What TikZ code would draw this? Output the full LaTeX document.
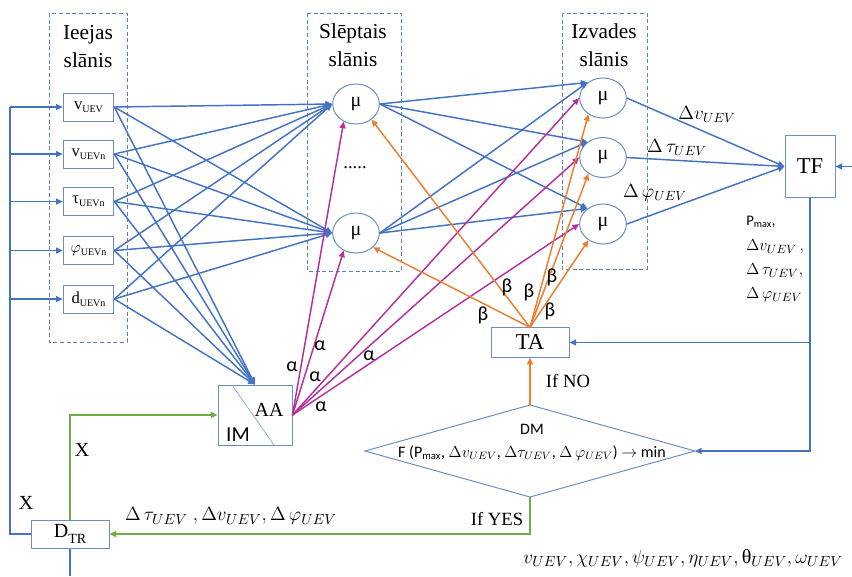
\documentclass[tikz,border=0pt]{standalone}
\usepackage[no-math]{fontspec}
\usepackage{amsmath}
\setmainfont{Liberation Serif}
\newfontfamily\calfont{Carlito}
\usetikzlibrary{arrows.meta,shapes.geometric}
\definecolor{cblue}{HTML}{4472C4}
\definecolor{cbox}{HTML}{6C8EBF}
\definecolor{cdiag}{HTML}{7FA6D8}
\definecolor{cmag}{HTML}{B5309E}
\definecolor{corg}{HTML}{ED7D31}
\definecolor{cgrn}{HTML}{70AD47}
\definecolor{cdash}{HTML}{5A84B4}
\newcommand\lowsub[1]{\raisebox{-2.5pt}{\fontsize{7.5}{8}\selectfont #1}}
\newcommand\lowsubb[1]{\raisebox{-4pt}{\fontsize{10.5}{11}\selectfont #1}}
\begin{document}
\begin{tikzpicture}[x=0.75pt,y=-0.75pt,
 tip/.style={-{Triangle[length=5pt,width=4.5pt]}},
 bl/.style={draw=cblue,line width=1.1pt,tip},
 mg/.style={draw=cmag,line width=1.1pt,tip},
 og/.style={draw=corg,line width=1.1pt,tip},
 gr/.style={draw=cgrn,line width=1.1pt,tip},
 box/.style={draw=cbox,line width=0.75pt,inner sep=0pt},
 inbox/.style={box,minimum width=38pt,minimum height=21pt,font=\fontsize{12.5}{14}\selectfont},
 neuron/.style={draw=cbox,line width=0.75pt,ellipse,minimum width=35pt,minimum height=30pt,inner sep=0pt,font=\fontsize{15}{17}\selectfont},
 layer/.style={draw=cdash,line width=0.6pt,dash pattern=on 3pt off 2pt},
 ttl/.style={align=center,font=\fontsize{16}{21}\selectfont},
 ab/.style={font=\calfont\fontsize{15}{17}\selectfont,inner sep=0pt},
 mlbl/.style={font=\fontsize{14.5}{16}\selectfont,inner sep=0pt},
 serif/.style={font=\fontsize{15}{18}\selectfont,inner sep=0pt},
]
\useasboundingbox (0,0) rectangle (852,576);

% layer frames
\draw[layer] (49,13) rectangle (127,342);
\draw[layer] (307,13) rectangle (401,271);
\draw[layer] (562,13) rectangle (647,269);
\node[ttl] (t1) at (88,47) {Ieejas\\slānis};
\node[ttl] (t2) at (353,45) {Slēptais\\slānis};
\node[ttl] (t3) at (604,45) {Izvades\\slānis};

% input nodes
\node[inbox] (i1) at (88.5,107) {v\lowsub{UEV}};
\node[inbox] (i2) at (88.5,154) {v\lowsub{UEVn}};
\node[inbox] (i3) at (88.5,201.5) {τ\lowsub{UEVn}};
\node[inbox] (i4) at (88.5,250.5) {$\varphi$\lowsub{UEVn}};
\node[inbox] (i5) at (88.5,299) {d\lowsub{UEVn}};

% hidden
\node[neuron] (h1) at (356,104) {μ};
\node[neuron] (h2) at (356,233) {μ};
\node[font=\fontsize{14}{16}\selectfont] (dots) at (355,168) {.....};

% outputs
\node[neuron] (o1) at (603,98) {μ};
\node[neuron] (o2) at (603,157.5) {μ};
\node[neuron] (o3) at (603,224) {μ};

% TF, TA, AA, DTR
\node[box,minimum width=37.5pt,minimum height=47pt,font=\fontsize{17}{20}\selectfont] (tf) at (810,166.5) {TF};
\node[box,minimum width=58.5pt,minimum height=22pt,font=\fontsize{17}{20}\selectfont] (ta) at (530,342.5) {TA};
\node[box,minimum width=55.5pt,minimum height=45pt] (aa) at (255,415) {};
\coordinate (dg1) at (232,385);
\coordinate (dg2) at (274,445);
\draw[draw=cdiag,line width=0.5pt] (dg1) -- (dg2);
\node[serif] (aat) at (269,410) {AA};
\node[font=\calfont\fontsize{16}{18}\selectfont,inner sep=0pt] (imt) at (238,435) {IM};
\node[box,minimum width=58.5pt,minimum height=21pt,font=\fontsize{15}{18}\selectfont] (dtr) at (70,534) {D\lowsubb{TR}};

% DM diamond
\coordinate (dmT) at (530,405);
\coordinate (dmR) at (695,451);
\coordinate (dmB) at (530,497);
\coordinate (dmL) at (365,451);
\draw[draw=cbox,line width=0.75pt] (dmT) -- (dmR) -- (dmB) -- (dmL) -- cycle;
\node[font=\calfont\fontsize{12}{14}\selectfont,inner sep=0pt] (dml) at (532,429) {DM};
\node[font=\calfont\fontsize{12}{14}\selectfont,inner sep=0pt] (dmf) at (532,453) {F (P\textsubscript{max}, $\Delta v_{UEV}$, $\Delta\tau_{UEV}$, $\Delta\,\varphi_{UEV}$) $\rightarrow$ min};

% input -> hidden, AA
\foreach \i in {1,...,5} {
  \draw[bl] (i\i.east) -- (h1.west);
  \draw[bl] (i\i.east) -- (h2.west);
  \draw[bl] (i\i.east) -- (aa.north);
}
% hidden -> output
\foreach \h in {1,2} {
  \foreach \o in {1,2,3} {
    \draw[bl] (h\h.east) -- (o\o.135);
  }
}
% output -> TF
\foreach \o in {1,2,3} { \draw[bl] (o\o.east) -- (tf.west); }

% AA -> (magenta)
\draw[mg] (aa.east) -- (h1.235);
\draw[mg] (aa.east) -- (h2.235);
\foreach \o in {1,2,3} { \draw[mg] (aa.east) -- (o\o.west); }

% TA -> (orange)
\draw[og] (ta.north) -- (h1.315);
\draw[og] (ta.north) -- (h2.320);
\foreach \o in {1,2,3} { \draw[og] (ta.north) -- (o\o.228); }

% DM connections
\draw[og] (dmT) -- (ta.south);
\draw[gr] (dmB) |- (dtr.east);
\draw[gr] (dtr.north) |- (aa.west);

% TF feedback
\coordinate (br) at (tf.south |- ta.east);
\draw[bl] (tf.south) |- (dmR);
\draw[bl] (br) -- (ta.east);
\coordinate (tfin) at (852,166.5);
\draw[bl] (tfin) -- (tf.east);

% left loop
\coordinate (lc) at (10,534);
\coordinate (lt) at (10,107);
\draw[draw=cblue,line width=1.4pt] (dtr.west) -- (lc) -- (lt);
\foreach \i in {1,...,5} { \draw[bl] (lc |- i\i.west) -- (i\i.west); }
\coordinate (dout) at (70,576);
\draw[draw=cblue,line width=1.1pt] (dtr.south) -- (dout);

% alpha labels
\node[ab] (a1) at (320,346) {α};
\node[ab] (a2) at (292,367) {α};
\node[ab] (a3) at (315,377) {α};
\node[ab] (a4) at (369,356) {α};
\node[ab] (a5) at (321,407) {α};
% beta labels
\node[ab] (b1) at (507,287) {β};
\node[ab] (b2) at (529,292) {β};
\node[ab] (b3) at (552,277) {β};
\node[ab] (b4) at (550,311) {β};
\node[ab] (b5) at (483,315) {β};

% output labels
\node[mlbl] (lv) at (707,114) {$\Delta v_{UEV}$};
\node[mlbl] (lt2) at (677,147) {$\Delta\,\tau_{UEV}$};
\node[mlbl] (lp) at (655,193) {$\Delta\,\varphi_{UEV}$};
\node[font=\calfont\fontsize{11}{13}\selectfont,inner sep=0pt,anchor=west] (pm) at (746,222) {P\textsubscript{max},};
\node[font=\fontsize{12.5}{14}\selectfont,inner sep=0pt,anchor=west] (pv) at (746,247) {$\Delta v_{UEV}\,,$};
\node[font=\fontsize{12.5}{14}\selectfont,inner sep=0pt,anchor=west] (pt) at (746,271) {$\Delta\,\tau_{UEV},$};
\node[font=\fontsize{12.5}{14}\selectfont,inner sep=0pt,anchor=west] (pp) at (746,295) {$\Delta\,\varphi_{UEV}$};

% other labels
\node[font=\fontsize{14}{16}\selectfont,inner sep=0pt] (ifno) at (568,381) {If NO};
\node[font=\fontsize{14}{16}\selectfont,inner sep=0pt] (ifyes) at (497,519) {If YES};
\node[serif] (x1) at (82,450) {X};
\node[serif] (x2) at (26,503) {X};
\node[font=\fontsize{15.5}{17}\selectfont,inner sep=0pt] (dl) at (231,516) {$\Delta\,\tau_{UEV}\ ,\Delta v_{UEV},\Delta\,\varphi_{UEV}$};
\node[font=\fontsize{15}{17}\selectfont,inner sep=0pt] (bot) at (683,558) {$v_{UEV},\chi_{UEV},\psi_{UEV},\eta_{UEV},\text{θ}_{UEV},\omega_{UEV}$};
\end{tikzpicture}
\end{document}
